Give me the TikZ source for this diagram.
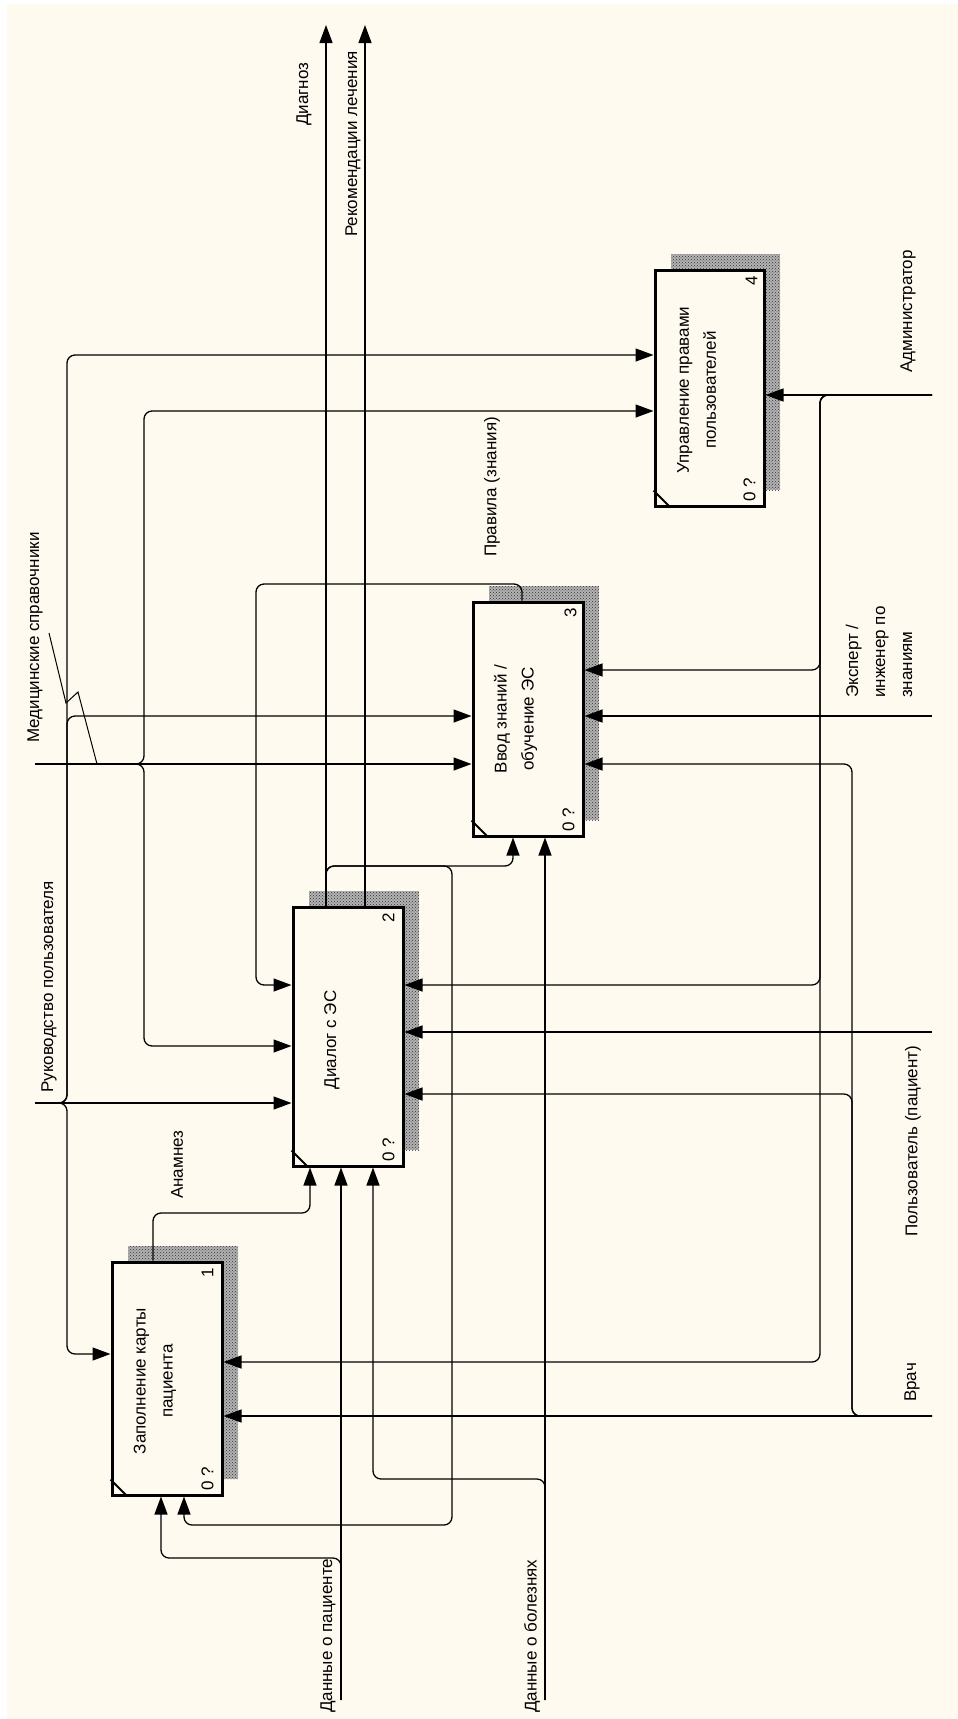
\documentclass[tikz,border=0pt]{standalone}
\usepackage{fontspec}
\setmainfont{Liberation Sans}
\usetikzlibrary{arrows.meta,patterns}
\definecolor{paper}{RGB}{255,250,240}

\begin{document}
\begin{tikzpicture}[x=1pt, y=-1pt,
    every node/.style={font=\fontsize{17}{27}\selectfont},
    func/.style={draw, line width=3pt, fill=paper, inner sep=0},
    lbl/.style={rotate=90, inner sep=0},
    lblw/.style={rotate=90, inner sep=0, anchor=west},
    arr/.style={-{Triangle[length=18pt,width=13pt]}, line width=1.3pt},
    rc/.style={rounded corners=8pt},
    shade/.style={fill=black!30, postaction={pattern=crosshatch dots, pattern color=black!80}}]
    \useasboundingbox (0,0) rectangle (958,1719);
    \fill[white] (0,0) rectangle (958,1719);
    \fill[paper] (7,4) rectangle (958,1719);

    % BLOQUE 1
    \fill[shade] (128,1246) rectangle (238,1479);
    \node[func, minimum width=110pt, minimum height=233pt] (b1) at (167,1378.5) {};
    \node[lbl, align=center] (t1) at (155,1381) {Заполнение карты\\пациента};
    \node[lbl] (n1) at ([xshift=-16pt,yshift=-12pt]b1.north east) {1};
    \node[lbl] (q1) at ([xshift=-16pt,yshift=18pt]b1.south east) {0 ?};
    \draw[line width=2pt] ([yshift=17pt]b1.south west) -- ([xshift=17pt]b1.south west);

    % BLOQUE 2
    \fill[shade] (309,891) rectangle (419,1150);
    \node[func, minimum width=110pt, minimum height=259pt] (b2) at (348,1036.5) {};
    \node[lbl] (t2) at (332,1040) {Диалог с ЭС};
    \node[lbl] (n2) at ([xshift=-16pt,yshift=-12pt]b2.north east) {2};
    \node[lbl] (q2) at ([xshift=-16pt,yshift=18pt]b2.south east) {0 ?};
    \draw[line width=2pt] ([yshift=17pt]b2.south west) -- ([xshift=17pt]b2.south west);

    % BLOQUE 3
    \fill[shade] (489,586) rectangle (599,820);
    \node[func, minimum width=110pt, minimum height=234pt] (b3) at (528,719) {};
    \node[lbl, align=center] (t3) at (515.5,719) {Ввод знаний /\\обучение ЭС};
    \node[lbl] (n3) at ([xshift=-14pt,yshift=-12pt]b3.north east) {3};
    \node[lbl] (q3) at ([xshift=-16pt,yshift=18pt]b3.south east) {0 ?};
    \draw[line width=2pt] ([yshift=17pt]b3.south west) -- ([xshift=17pt]b3.south west);

    % BLOQUE 4
    \fill[shade] (671,254) rectangle (780,490);
    \node[func, minimum width=109pt, minimum height=236pt] (b4) at (709.5,388) {};
    \node[lbl, align=center] (t4) at (696.5,390) {Управление правами\\пользователей};
    \node[lbl] (n4) at ([xshift=-14pt,yshift=-12pt]b4.north east) {4};
    \node[lbl] (q4) at ([xshift=-16pt,yshift=18pt]b4.south east) {0 ?};
    \draw[line width=2pt] ([yshift=17pt]b4.south west) -- ([xshift=17pt]b4.south west);

    % extremos libres
    \coordinate (ruk) at (35,1103);
    \coordinate (med) at (35,764);
    \coordinate (adm) at (932,395);
    \coordinate (exp) at (932,716);
    \coordinate (pol) at (932,1032);
    \coordinate (vr) at (932,1416);
    \coordinate (dpac) at (341,1700);
    \coordinate (dbol) at (545,1700);
    \coordinate (diag) at (326,25);
    \coordinate (rek) at (365,25);

    % CONTROL
    \draw[arr] (ruk) -- (b2.west |- ruk);
    \draw[arr, rc] (ruk) -| (67,355) -- (b4.west |- 0,355);
    \draw[arr, rc] (ruk) -| (67,716) -- (b3.west |- 0,716);
    \draw[arr, rc] (ruk) -| (67,1354) -- (b1.west |- 0,1354);
    \draw[arr] (med) -- (b3.west |- med);
    \draw[arr, rc] (med) -| (144,411) -- (b4.west |- 0,411);
    \draw[arr, rc] (med) -| (144,1046) -- (b2.west |- 0,1046);
    \draw[arr, rc] (b3.north -| 522,0) |- (256,584) |- (b2.west |- 0,985);
    \draw[line width=1pt] (49,633) -- (66,703) -- (78,692) -- (97,764);

    % SALIDA
    \draw[arr] (b2.north -| diag) -- (diag);
    \draw[arr] (b2.north -| rek) -- (rek);
    \draw[arr, rc] (b2.north -| diag) |- (513,866) -- (b3.south -| 513,0);
    \draw[arr, rc] (b2.north -| diag) |- (452,866) |- (184,1525) -- (b1.south -| 184,0);
    \draw[arr, rc] (b1.north -| 153,0) |- (310,1213) -- (b2.south -| 310,0);

    % ENTRADA
    \draw[arr] (dpac) -- (b2.south -| dpac);
    \draw[arr, rc] (dpac) |- (161,1558) -- (b1.south -| 161,0);
    \draw[arr] (dbol) -- (b3.south -| dbol);
    \draw[arr, rc] (dbol) |- (373,1479) -- (b2.south -| 373,0);

    % MECANISMOS
    \draw[arr] (adm) -- (b4.east |- adm);
    \draw[arr, rc] (adm) -| (820,670) -- (b3.east |- 0,670);
    \draw[arr, rc] (adm) -| (820,985) -- (b2.east |- 0,985);
    \draw[arr, rc] (adm) -| (820,1362) -- (b1.east |- 0,1362);
    \draw[arr] (exp) -- (b3.east |- exp);
    \draw[arr] (pol) -- (b2.east |- pol);
    \draw[arr] (vr) -- (b1.east |- vr);
    \draw[arr, rc] (vr) -| (852,1094) -- (b2.east |- 0,1094);
    \draw[arr, rc] (vr) -| (852,764) -- (b3.east |- 0,764);

    % ETIQUETAS
    \node[lblw] (ldiag) at (304,126) {Диагноз};
    \node[lblw] (lrek) at (353,237) {Рекомендации лечения};
    \node[lblw] (lmed) at (35,743) {Медицинские справочники};
    \node[lblw] (lruk) at (49,1093) {Руководство пользователя};
    \node[lblw] (lprav) at (492,557) {Правила (знания)};
    \node[lblw] (lanam) at (177,1199) {Анамнез};
    \node[lblw] (ladm) at (908,373) {Администратор};
    \node[lblw, align=left] (lexp) at (879,698) {Эксперт /\\инженер по\\знаниям};
    \node[lblw] (lpol) at (913,1237) {Пользователь (пациент)};
    \node[lblw] (lvr) at (912,1402) {Врач};
    \node[lblw] (ldp) at (328,1713) {Данные о пациенте};
    \node[lblw] (ldb) at (532,1713) {Данные о болезнях};
\end{tikzpicture}
\end{document}
